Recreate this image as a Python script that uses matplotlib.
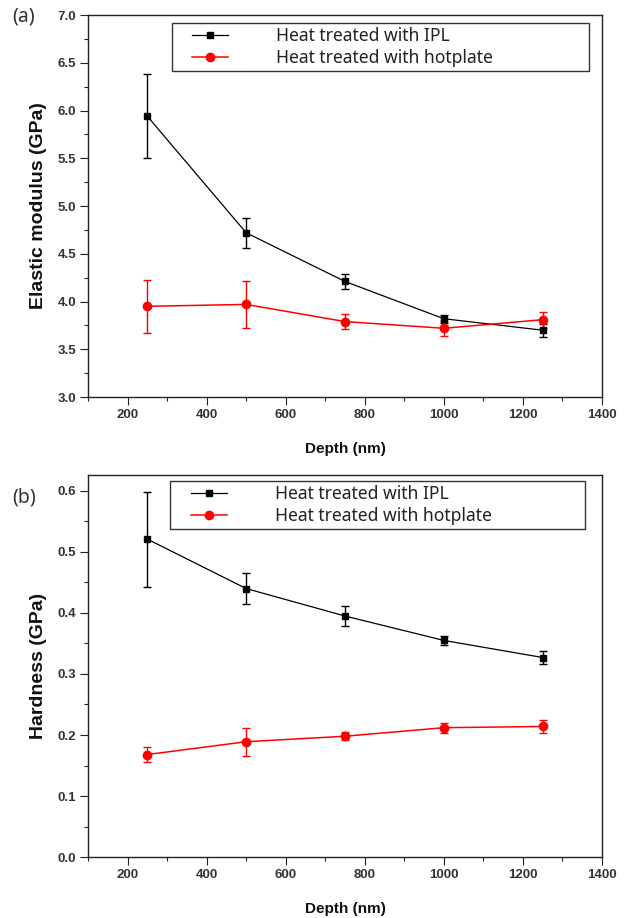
import matplotlib
matplotlib.use("Agg")
import matplotlib.pyplot as plt
from matplotlib.ticker import MultipleLocator, FormatStrFormatter
from matplotlib.lines import Line2D
from matplotlib.legend_handler import HandlerLine2D

depth = [250, 500, 750, 1000, 1250]

mod_ipl = [5.94, 4.72, 4.21, 3.82, 3.70]
mod_ipl_err = [0.44, 0.155, 0.08, 0.04, 0.07]
mod_hot = [3.95, 3.97, 3.79, 3.72, 3.81]
mod_hot_err = [0.28, 0.25, 0.075, 0.08, 0.085]

hard_ipl = [0.521, 0.440, 0.395, 0.355, 0.327]
hard_ipl_err = [0.078, 0.026, 0.016, 0.007, 0.011]
hard_hot = [0.168, 0.189, 0.198, 0.212, 0.214]
hard_hot_err = [0.013, 0.023, 0.007, 0.008, 0.010]

label_ipl = "Heat treated with IPL"
label_hot = "Heat treated with hotplate"

plt.rcParams['font.family'] = ['Liberation Sans', 'DejaVu Sans']

fig = plt.figure(figsize=(6.29, 9.18), dpi=100)
ax1 = fig.add_axes([0.140, 0.5675, 0.817, 0.4161])
ax2 = fig.add_axes([0.140, 0.0664, 0.817, 0.4161])


def plot_panel(ax, ipl, ipl_err, hot, hot_err):
    c1 = ax.errorbar(depth, ipl, yerr=ipl_err, color='black', marker='s',
                     markersize=5, linewidth=0.9, capsize=3, elinewidth=1.0,
                     capthick=1.0)
    c2 = ax.errorbar(depth, hot, yerr=hot_err, color='red', marker='o',
                     markersize=6, linewidth=1.1, capsize=3, elinewidth=1.0,
                     capthick=1.0)
    return c1[0], c2[0]


def style(ax, handles, ylim, ymajor, yminor, ylabel, leg_anchor):
    ax.set_xlim(100, 1400)
    ax.set_ylim(*ylim)
    ax.xaxis.set_major_locator(MultipleLocator(200))
    ax.xaxis.set_minor_locator(MultipleLocator(100))
    ax.yaxis.set_major_locator(MultipleLocator(ymajor))
    ax.yaxis.set_minor_locator(MultipleLocator(yminor))
    ax.yaxis.set_major_formatter(FormatStrFormatter('%.1f'))
    ax.tick_params(which='major', direction='out', length=5.5, width=0.8,
                   labelsize=9.5, top=False, right=False, pad=3,
                   colors='#222222', labelcolor='#333333')
    ax.tick_params(which='minor', direction='out', length=3, width=0.8,
                   top=False, right=False, colors='#222222')
    for lab in ax.get_xticklabels() + ax.get_yticklabels():
        lab.set_fontweight('bold')
    for sp in ax.spines.values():
        sp.set_linewidth(1.0)
        sp.set_color('#222222')
    ax.set_xlabel("Depth (nm)", fontsize=11, fontweight='bold', labelpad=15,
                  color='#111111')
    ax.set_ylabel(ylabel, fontsize=14, fontweight='bold', labelpad=8,
                  color='#111111')
    leg = ax.legend(handles=handles, labels=[label_ipl, label_hot],
                    loc='upper left', bbox_to_anchor=leg_anchor, mode='expand',
                    prop={'family': 'Noto Sans', 'size': 12.6},
                    handler_map={Line2D: HandlerLine2D(xpad=0.96, numpoints=1)},
                    handlelength=3.02, handletextpad=2.74, labelspacing=0.26,
                    borderpad=0.21, borderaxespad=0, fancybox=False,
                    framealpha=1, edgecolor='#333333')
    leg.get_frame().set_linewidth(1.0)
    for t in leg.get_texts():
        t.set_color('#222222')


h1 = plot_panel(ax1, mod_ipl, mod_ipl_err, mod_hot, mod_hot_err)
style(ax1, h1, (3.0, 7.0), 0.5, 0.25, "Elastic modulus (GPa)",
      (0.163, 0.979, 0.811, 0.0))
ax1.text(-0.148, 0.997, "(a)", transform=ax1.transAxes, fontsize=14,
         family='Noto Sans', va='center', ha='left', color='#333333')

h2 = plot_panel(ax2, hard_ipl, hard_ipl_err, hard_hot, hard_hot_err)
style(ax2, h2, (0.0, 0.626), 0.1, 0.05, "Hardness (GPa)",
      (0.160, 0.984, 0.807, 0.0))
ax2.text(-0.148, 0.59 / 0.626, "(b)", transform=ax2.transAxes, fontsize=14,
         family='Noto Sans', va='center', ha='left', color='#333333')

fig.savefig("out.png", dpi=100)
